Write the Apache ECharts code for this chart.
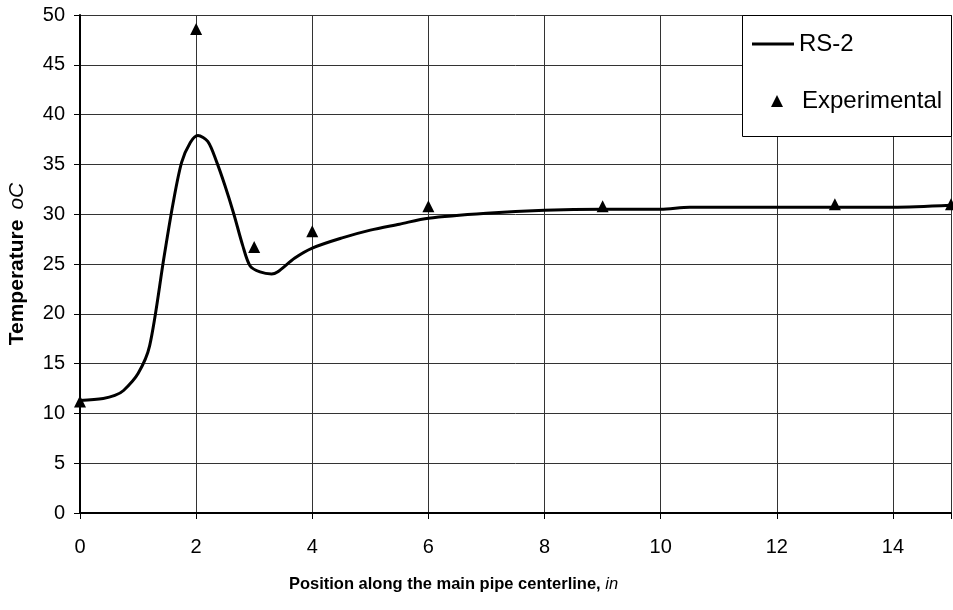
<!DOCTYPE html>
<html>
<head>
<meta charset="utf-8">
<script src="https://cdn.jsdelivr.net/npm/echarts@6/dist/echarts.min.js"></script>
<style>
html,body{margin:0;padding:0;background:#fff;}
#c{width:953px;height:610px;}
</style>
</head>
<body>
<div id="c"></div>
<script>
// RS-2 simulated curve
const rsX = [0, 0.4, 0.6, 0.75, 1.0, 1.2, 1.45, 1.6, 1.75, 1.9, 2.03, 2.2, 2.35, 2.5, 2.65, 2.8, 2.93, 3.1, 3.3, 3.4, 3.7, 4.0, 4.5, 5.0, 5.5, 6.0, 7.0, 8.0, 9.0, 10.0, 10.5, 12.0, 14.0, 15.0];
const rsY = [11.3, 11.5, 11.8, 12.3, 14.0, 16.8, 25.8, 31.0, 35.2, 37.2, 37.9, 37.3, 35.3, 32.8, 30.0, 26.9, 24.8, 24.2, 24.0, 24.2, 25.6, 26.6, 27.6, 28.4, 29.0, 29.6, 30.1, 30.4, 30.5, 30.5, 30.7, 30.7, 30.7, 30.9];
// Experimental points
const expX = [0, 2, 3, 4, 6, 9, 13, 15];
const expY = [11.2, 48.6, 26.7, 28.3, 30.8, 30.8, 31.0, 31.0];

const FONT = 'Liberation Sans, Arial, sans-serif';
const chart = echarts.init(document.getElementById('c'));
chart.setOption({
  animation: false,
  backgroundColor: '#fff',
  textStyle: { fontFamily: FONT },
  grid: { left: 80, right: 2, top: 15, bottom: 97, containLabel: false, outerBoundsMode: 'none' },
  xAxis: {
    type: 'value', min: 0, max: 15, interval: 2,
    name: '{b|Position along the main pipe centerline, }{i|in}',
    nameLocation: 'middle', nameGap: 63,
    nameTextStyle: {
      padding: [0, 124, 0, 0],
      rich: {
        b: { fontFamily: FONT, fontWeight: 'bold', fontSize: 16.5, color: '#000' },
        i: { fontFamily: FONT, fontStyle: 'italic', fontSize: 16.5, color: '#000' }
      }
    },
    axisLine: { onZero: false, lineStyle: { color: '#000', width: 2 } },
    axisTick: { show: true, inside: false, length: 6, lineStyle: { color: '#000', width: 1 } },
    axisLabel: { color: '#000', fontSize: 20, fontFamily: FONT, margin: 24,
      formatter: v => (v === 15 ? '' : String(v)) },
    splitLine: { show: true, lineStyle: { color: '#333', width: 1 } }
  },
  yAxis: {
    type: 'value', min: 0, max: 50, interval: 5,
    name: '{b|Temperature}   {i|oC}',
    nameLocation: 'middle', nameGap: 52, nameRotate: 90,
    nameTextStyle: {
      rich: {
        b: { fontFamily: FONT, fontWeight: 'bold', fontSize: 21, color: '#000' },
        i: { fontFamily: FONT, fontStyle: 'italic', fontSize: 21, color: '#000' }
      }
    },
    axisLine: { show: true, lineStyle: { color: '#000', width: 2 } },
    axisTick: { show: true, inside: false, length: 6, lineStyle: { color: '#000', width: 1 } },
    axisLabel: { color: '#000', fontSize: 20, fontFamily: FONT, margin: 15 },
    splitLine: { show: true, lineStyle: { color: '#333', width: 1 } }
  },
  legend: [
    {
      orient: 'vertical', left: 752, top: 32, padding: 0,
      itemWidth: 42, itemHeight: 3, icon: 'rect',
      textStyle: { fontSize: 24, color: '#000', fontFamily: FONT },
      data: ['RS-2'], z: 5
    },
    {
      orient: 'vertical', left: 771, top: 89, padding: 0,
      itemWidth: 12, itemHeight: 12, icon: 'triangle',
      textStyle: { fontSize: 24, color: '#000', fontFamily: FONT, padding: [0, 0, 0, 14] },
      data: ['Experimental'], z: 5
    }
  ],
  graphic: [
    { type: 'rect', z: 4, left: 742, top: 15,
      shape: { width: 209, height: 121 },
      style: { fill: '#fff', stroke: '#000', lineWidth: 1 } }
  ],
  series: [
    {
      name: 'RS-2', type: 'line', smooth: 0.3, symbol: 'none',
      lineStyle: { color: '#000', width: 3 },
      itemStyle: { color: '#000' },
      data: rsX.map((x, i) => [x, rsY[i]])
    },
    {
      name: 'Experimental', type: 'scatter', symbol: 'triangle', symbolSize: 12,
      clip: false,
      itemStyle: { color: '#000', opacity: 1 },
      data: expX.map((x, i) => [x, expY[i]])
    }
  ]
});
</script>
</body>
</html>
